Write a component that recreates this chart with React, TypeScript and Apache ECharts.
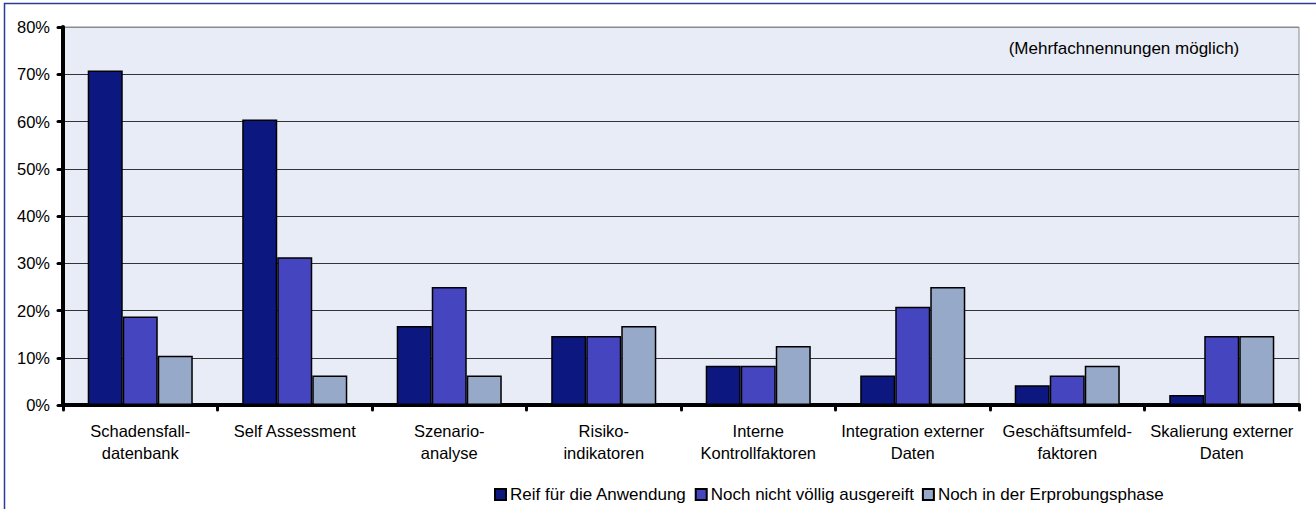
import React, { useEffect, useRef } from "react";
import * as echarts from "echarts";

const categories = [
  "Schadensfall-\ndatenbank",
  "Self Assessment",
  "Szenario-\nanalyse",
  "Risiko-\nindikatoren",
  "Interne\nKontrollfaktoren",
  "Integration externer\nDaten",
  "Geschäftsumfeld-\nfaktoren",
  "Skalierung externer\nDaten",
];

const seriesNames = [
  "Reif für die Anwendung",
  "Noch nicht völlig ausgereift",
  "Noch in der Erprobungsphase",
];

// shares of respondents (0..1)
const reif = [0.708, 0.604, 0.167, 0.146, 0.083, 0.0625, 0.042, 0.021];
const nochNicht = [0.1875, 0.3125, 0.25, 0.146, 0.083, 0.208, 0.0625, 0.146];
const erprobung = [0.104, 0.0625, 0.0625, 0.167, 0.125, 0.25, 0.083, 0.146];

const seriesData = [reif, nochNicht, erprobung];
const seriesColors = ["#0c1880", "#4545c0", "#97a9c9"];

const yTicks = [0, 0.1, 0.2, 0.3, 0.4, 0.5, 0.6, 0.7, 0.8];

const FONT = "Liberation Sans, Arial, sans-serif";

export default function App() {
  const ref = useRef<HTMLDivElement>(null);

  useEffect(() => {
    document.body.style.margin = "0";
    if (!ref.current) return;
    const chart = echarts.init(ref.current, null, { renderer: "svg" });

    const splitColors = yTicks.map((_, i) => (i === yTicks.length - 1 ? "#8a8a8a" : "#333333"));

    chart.setOption({
      animation: false,
      textStyle: { fontFamily: FONT },
      grid: {
        left: 63,
        right: 17,
        top: 27,
        bottom: 104,
        show: true,
        backgroundColor: "#e8ecf6",
        borderColor: "#8a8a8a",
        borderWidth: 1,
      },
      legend: {
        data: seriesNames,
        left: 489,
        top: 481,
        icon: "rect",
        itemWidth: 11,
        itemHeight: 11,
        itemGap: 8,
        textStyle: { fontSize: 17, color: "#000", fontFamily: FONT, padding: [0, 0, 0, -1] },
      },
      xAxis: {
        type: "category",
        data: categories,
        axisLine: { lineStyle: { color: "#000", width: 4, cap: "round" } },
        axisTick: {
          show: true,
          interval: 0,
          alignWithLabel: false,
          length: 5,
          lineStyle: { color: "#000", width: 3, cap: "round" },
        },
        axisLabel: {
          interval: 0,
          fontSize: 16.5,
          color: "#000",
          lineHeight: 22,
          margin: 15,
          fontFamily: FONT,
        },
      },
      yAxis: {
        type: "value",
        min: 0,
        max: 0.8,
        interval: 0.1,
        axisLine: { show: true, lineStyle: { color: "#000", width: 4, cap: "round" } },
        axisTick: { show: true, length: 5, lineStyle: { color: "#000", width: 3, cap: "round" } },
        axisLabel: {
          fontSize: 16.5,
          color: "#000",
          margin: 13,
          fontFamily: FONT,
          formatter: (v: number) => `${Math.round(v * 100)}%`,
        },
        splitLine: { show: true, lineStyle: { color: splitColors, width: 1 } },
      },
      series: seriesNames.map((name, i) => ({
        name,
        type: "bar",
        data: seriesData[i],
        barGap: "0%",
        barCategoryGap: "32%",
        itemStyle: { color: seriesColors[i], borderColor: "#000", borderWidth: 1.5 },
      })),
      graphic: [
        {
          type: "rect",
          silent: true,
          shape: { x: 4.5, y: 3.5, width: 1400, height: 600 },
          style: { fill: "none", stroke: "#2b3a9c", lineWidth: 1.5 },
          z: 100,
        },
        {
          type: "text",
          x: 1124,
          y: 48,
          style: {
            text: "(Mehrfachnennungen möglich)",
            fontSize: 17,
            fontFamily: FONT,
            fill: "#000",
            align: "center",
            verticalAlign: "middle",
          },
          z: 100,
        },
      ],
    });

    return () => chart.dispose();
  }, []);

  return <div ref={ref} style={{ width: 1316, height: 509 }} />;
}
